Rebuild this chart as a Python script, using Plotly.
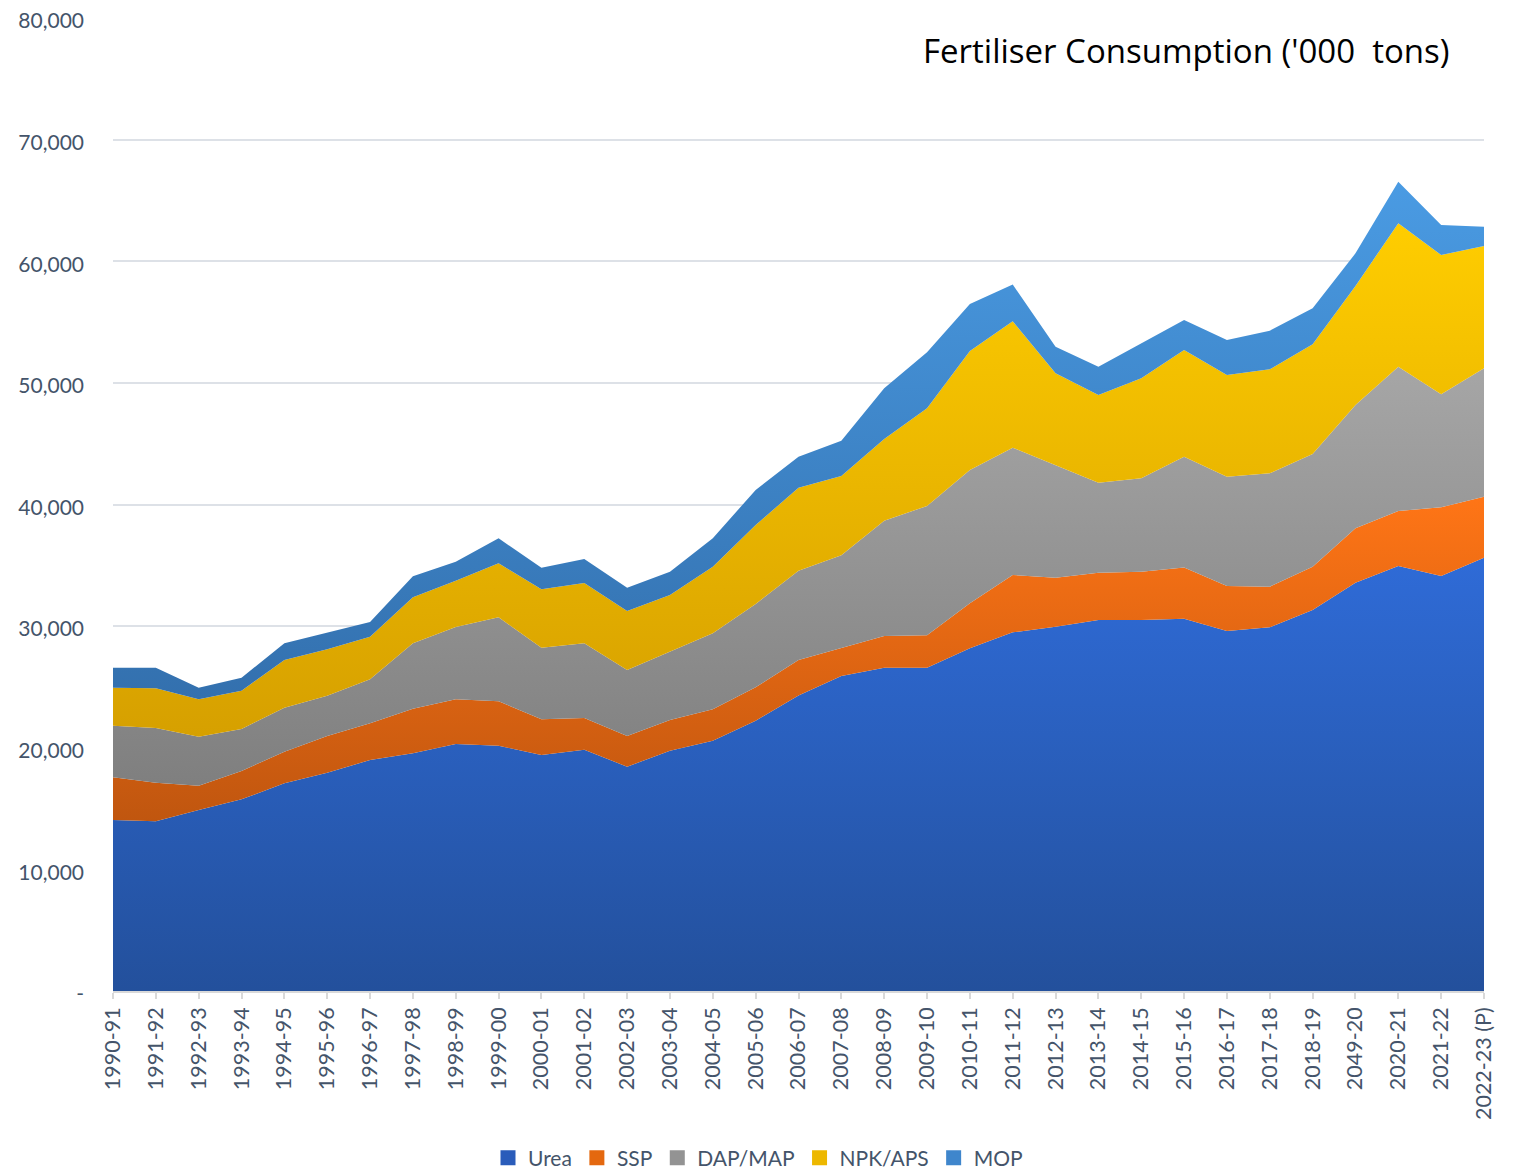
import numpy as np
import plotly.graph_objects as go

years = ["1990-91", "1991-92", "1992-93", "1993-94", "1994-95", "1995-96", "1996-97",
         "1997-98", "1998-99", "1999-00", "2000-01", "2001-02", "2002-03", "2003-04",
         "2004-05", "2005-06", "2006-07", "2007-08", "2008-09", "2009-10", "2010-11",
         "2011-12", "2012-13", "2013-14", "2014-15", "2015-16", "2016-17", "2017-18",
         "2018-19", "2049-20", "2020-21", "2021-22", "2022-23 (P)"]

urea = [14060, 13950, 14880, 15760, 17080, 17950, 18990, 19540, 20310, 20170, 19400,
        19840, 18440, 19760, 20580, 22220, 24300, 25900, 26580, 26580, 28180, 29490,
        29950, 30500, 30500, 30600, 29600, 29900, 31330, 33570, 34940, 34120, 35630]
ssp = [3510, 3180, 2000, 2330, 2600, 3020, 3020, 3670, 3670, 3650, 2940, 2610, 2530,
       2520, 2580, 2750, 2920, 2280, 2610, 2670, 3700, 4710, 4030, 3890, 3970, 4230,
       3700, 3340, 3550, 4470, 4530, 5650, 5010]
dap_map = [4240, 4490, 4030, 3450, 3610, 3310, 3620, 5380, 5950, 6900, 5890, 6140, 5420,
           5620, 6250, 6850, 7340, 7640, 9480, 10630, 10960, 10470, 9270, 7400, 7680,
           9100, 8990, 9320, 9270, 10140, 11860, 9290, 10560]
npk_aps = [3130, 3270, 3070, 3150, 3920, 3810, 3500, 3780, 3810, 4450, 4800, 4960, 4850,
           4660, 5480, 6490, 6820, 6520, 6720, 8030, 9780, 10390, 7540, 7210, 8220, 8770,
           8360, 8550, 9020, 9790, 11790, 11450, 10050]
mop = [1640, 1690, 960, 1070, 1380, 1400, 1210, 1730, 1560, 2050, 1770, 1970, 1920,
       1920, 2330, 2890, 2550, 2910, 4160, 4600, 3870, 3020, 2180, 2330, 2880, 2470,
       2870, 3180, 2960, 2680, 3420, 2470, 1590]

series_names = ["Urea", "SSP", "DAP/MAP", "NPK/APS", "MOP"]
series_vals = [urea, ssp, dap_map, npk_aps, mop]
dark_cols = ["#23509C", "#C0560F", "#7F7F7F", "#D6A000", "#3370AE"]
light_cols = ["#2F6BD7", "#FF7516", "#A6A6A6", "#FFCD00", "#4A9BE3"]
legend_cols = ["#2A5CBA", "#E4680F", "#939393", "#EDB800", "#3F86CC"]

y_ticks = [0, 10000, 20000, 30000, 40000, 50000, 60000, 70000, 80000]
y_tick_text = ["-", "10,000", "20,000", "30,000", "40,000", "50,000", "60,000", "70,000", "80,000"]

font_family = "Lato, 'Open Sans', sans-serif"
label_col = "#44546A"

# page body has an 8px margin; figure sized so the plot area lands where the reference has it
W, H = 1508, 1163
PL, PT, PW, PH = 105, 10, 1371, 973

fig = go.Figure()
cum = np.zeros(len(years))
for name, vals, dc, lc in zip(series_names, series_vals, dark_cols, light_cols):
    vals = np.array(vals, dtype=float)
    lower = cum.copy()
    cum = cum + vals
    fig.add_trace(go.Scatter(
        x=years, y=vals, name=name, mode="lines", stackgroup="one",
        line=dict(width=0, color=lc),
        fillcolor=lc,
        fillgradient=dict(type="vertical",
                          colorscale=[[0, dc], [1, lc]],
                          start=float(lower.min()), stop=float(cum.max())),
        showlegend=False,
        hoverinfo="x+y+name",
    ))

# legend entries with square swatches
for name, col in zip(series_names, legend_cols):
    fig.add_trace(go.Scatter(
        x=[None], y=[None], name=name, mode="markers",
        marker=dict(symbol="square", size=15, color=col),
        showlegend=True,
    ))

fig.add_annotation(
    text="Fertiliser Consumption ('000  tons)",
    xref="paper", yref="paper", x=(1452 - 8 - PL) / PW, y=1.0 - (51 - 8 - PT) / PH,
    xanchor="right", yanchor="middle", showarrow=False,
    font=dict(family="'Open Sans', Lato, sans-serif", size=33, color="#000000"),
)

fig.update_layout(
    width=W, height=H,
    margin=dict(l=PL, r=W - PL - PW, t=PT, b=H - PT - PH, autoexpand=False),
    paper_bgcolor="white", plot_bgcolor="white",
    font=dict(family=font_family, size=21, color=label_col),
    showlegend=True,
    legend=dict(orientation="h", x=(758 - 8 - PL) / PW, xanchor="center",
                y=-(1158 - 8 - PT - PH) / PH, yanchor="middle",
                font=dict(size=21, color=label_col), itemwidth=30,
                traceorder="normal", tracegroupgap=0),
    xaxis=dict(
        type="category", range=[0, len(years) - 1], automargin=False,
        tickangle=-90, tickfont=dict(size=21.5, color=label_col),
        showgrid=False, showline=True, linecolor="#D9D9D9", linewidth=1.5,
        ticks="outside", ticklen=6, tickcolor="#D9D9D9", tickwidth=1.5,
        zeroline=False,
    ),
    yaxis=dict(
        range=[0, 80000], tickvals=y_ticks, ticktext=y_tick_text, automargin=False,
        tickfont=dict(size=21, color=label_col), ticklabeloverflow="allow",
        ticklabelshift=3,
        showgrid=True, gridcolor="#DDE1E7", gridwidth=1.5,
        zeroline=False, showline=False, ticks="", ticklabelstandoff=28,
    ),
)

fig.write_html("out.html")
